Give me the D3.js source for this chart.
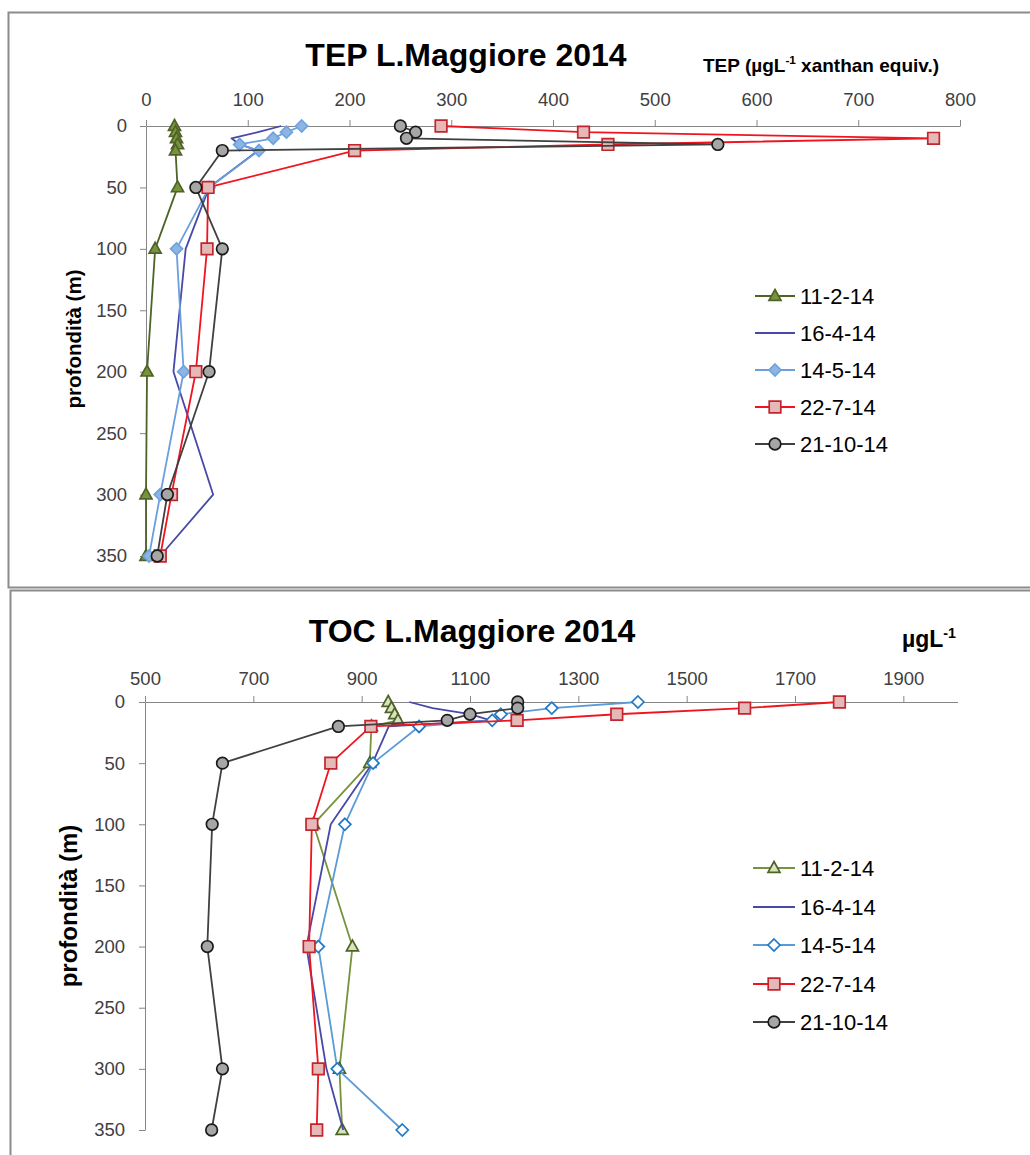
<!DOCTYPE html>
<html>
<head>
<meta charset="utf-8">
<script src="https://cdn.jsdelivr.net/npm/d3@7"></script>
<style>
	body { margin: 0; background: #fff; }
	svg { display: block; font-family: "Liberation Sans", Arial, sans-serif; }
</style>
</head>
<body>
<div id="visHolder"></div>
<script>
// depths sampled (m)
const depths = [0, 5, 10, 15, 20, 50, 100, 200, 300, 350];
const seriesNames = ["11-2-14", "16-4-14", "14-5-14", "22-7-14", "21-10-14"];

// TEP (ugL-1 xanthan equiv.)
const tepFeb = [28, 29, 30, 31, 29, 31, 9, 1, 0, 0];
const tepApr = [133, 110, 84, 92, 110, 62, 39, 27, 66, 14];
const tepMay = [153, 138, 125, 92, 111, 62, 30, 37, 14, 3];
const tepJul = [290, 430, 774, 454, 205, 61, 60, 49, 25, 14];
const tepOct = [250, 265, 256, 562, 75, 49, 75, 62, 21, 11];

// TOC (ugL-1)
const tocFeb = [949, 955, 961, 967, 918, 915, 811, 883, 859, 864];
const tocApr = [988, 1031, 1100, 1138, 950, 920, 843, 798, 835, 866];
const tocMay = [1410, 1251, 1157, 1141, 1006, 921, 869, 820, 855, 975];
const tocJul = [1782, 1607, 1371, 1187, 917, 843, 808, 803, 820, 817];
const tocOct = [1188, 1188, 1100, 1058, 857, 643, 624, 615, 643, 623];

const tepTicks = [0, 100, 200, 300, 400, 500, 600, 700, 800];
const tocTicks = [500, 700, 900, 1100, 1300, 1500, 1700, 1900];
const depthTicks = [0, 50, 100, 150, 200, 250, 300, 350];

const AXIS_COLOR = "#868686";
const LABEL_COLOR = "#404040";

const svg = d3
	.select("#visHolder")
	.append("svg")
	.attr("width", 1030)
	.attr("height", 1155);

drawChart({
	frame: { x: 8.5, y: 12.5, height: 575 },
	title: "TEP L.Maggiore 2014",
	titlePos: { x: 466, y: 66 },
	unit: { pre: "TEP (µgL", sup: "-1", post: " xanthan equiv.)", x: 703, y: 72, size: 19 },
	xDomain: [0, 800],
	xRange: [146, 960],
	yRange: [126, 556],
	xTicks: tepTicks,
	xPad: 14,
	yPad: 13,
	yLabel: { x: 81, y: 339, size: 20.5 },
	legendRows: [296, 333, 370, 407, 444],
	legendX: [755, 795],
	values: [tepFeb, tepApr, tepMay, tepJul, tepOct],
	styles: [
		{ line: "#4f6228", marker: "triangle", fill: "#77933c", stroke: "#4f6228" },
		{ line: "#4848a8", marker: null },
		{ line: "#6a9fdc", marker: "diamond", fill: "#8db4e2", stroke: "#6fa3de" },
		{ line: "#f0141e", marker: "square", fill: "#e6b9b8", stroke: "#c0262d" },
		{ line: "#404040", marker: "circle", fill: "#a6a6a6", stroke: "#1a1a1a" },
	],
});

drawChart({
	frame: { x: 10.5, y: 590.5, height: 620 },
	title: "TOC L.Maggiore 2014",
	titlePos: { x: 472, y: 642 },
	unit: { pre: "µgL", sup: "-1", post: "", x: 902, y: 647, size: 23 },
	xDomain: [500, 2000],
	xRange: [145, 957.5],
	yRange: [702, 1130],
	xTicks: tocTicks,
	xPad: 11,
	yPad: 14,
	yLabel: { x: 77, y: 906, size: 24 },
	legendRows: [868, 907, 945, 984, 1022],
	legendX: [753, 795],
	values: [tocFeb, tocApr, tocMay, tocJul, tocOct],
	styles: [
		{ line: "#77933c", marker: "triangle", fill: "#d7e4bd", stroke: "#4f6228" },
		{ line: "#4848a8", marker: null },
		{ line: "#5b9bd5", marker: "diamond", fill: "#ffffff", stroke: "#1f78c8" },
		{ line: "#f0141e", marker: "square", fill: "#e6b9b8", stroke: "#c0262d" },
		{ line: "#404040", marker: "circle", fill: "#a6a6a6", stroke: "#1a1a1a" },
	],
});

function drawChart(cfg) {
	const g = svg.append("g");

	//outer frame
	g.append("rect")
		.attr("x", cfg.frame.x)
		.attr("y", cfg.frame.y)
		.attr("width", 1040)
		.attr("height", cfg.frame.height)
		.attr("fill", "none")
		.attr("stroke", "#8c8c8c")
		.attr("stroke-width", 2);

	const x = d3.scaleLinear().domain(cfg.xDomain).range(cfg.xRange);
	const y = d3.scaleLinear().domain([0, 350]).range(cfg.yRange);

	createTitle();
	createAxes();
	createSeries();
	createLegend();

	function createTitle() {
		g.append("text")
			.attr("x", cfg.titlePos.x)
			.attr("y", cfg.titlePos.y)
			.attr("text-anchor", "middle")
			.attr("font-size", 32)
			.attr("font-weight", "bold")
			.attr("fill", "#000")
			.text(cfg.title);

		const unit = g
			.append("text")
			.attr("x", cfg.unit.x)
			.attr("y", cfg.unit.y)
			.attr("font-size", cfg.unit.size)
			.attr("font-weight", "bold")
			.attr("fill", "#000");
		unit.append("tspan").text(cfg.unit.pre);
		unit.append("tspan")
			.attr("dy", -cfg.unit.size * 0.4)
			.attr("font-size", cfg.unit.size * 0.62)
			.text(cfg.unit.sup);
		if (cfg.unit.post)
			unit.append("tspan").attr("dy", cfg.unit.size * 0.4).text(cfg.unit.post);

		g.append("text")
			.attr("transform", `translate(${cfg.yLabel.x},${cfg.yLabel.y}) rotate(-90)`)
			.attr("text-anchor", "middle")
			.attr("font-size", cfg.yLabel.size)
			.attr("font-weight", "bold")
			.attr("fill", "#000")
			.text("profondità (m)");
	}

	function createAxes() {
		const xAxis = d3
			.axisTop(x)
			.tickValues(cfg.xTicks)
			.tickSize(6)
			.tickSizeOuter(0)
			.tickPadding(cfg.xPad)
			.tickFormat(d3.format("d"));
		const yAxis = d3
			.axisLeft(y)
			.tickValues(depthTicks)
			.tickSize(6)
			.tickSizeOuter(0)
			.tickPadding(cfg.yPad)
			.tickFormat(d3.format("d"));

		g.append("g")
			.attr("transform", `translate(0,${cfg.yRange[0]})`)
			.call(xAxis)
			.call(styleAxis);
		g.append("g")
			.attr("transform", `translate(${cfg.xRange[0]},0)`)
			.call(yAxis)
			.call(styleAxis);
	}

	function styleAxis(sel) {
		sel.attr("font-family", null).attr("font-size", 18.5);
		sel.select(".domain").attr("stroke", AXIS_COLOR);
		sel.selectAll(".tick line").attr("stroke", AXIS_COLOR);
		sel.selectAll(".tick text").attr("fill", LABEL_COLOR);
	}

	function createSeries() {
		const line = d3
			.line()
			.x((d) => x(d.v))
			.y((d) => y(d.depth));

		cfg.values.forEach((vals, i) => {
			const st = cfg.styles[i];
			const pts = vals.map((v, j) => ({ v, depth: depths[j] }));
			const s = g.append("g").attr("class", "series");
			s.append("path")
				.attr("d", line(pts))
				.attr("fill", "none")
				.attr("stroke", st.line)
				.attr("stroke-width", 1.8)
				.attr("stroke-linejoin", "round");
			if (!st.marker) return;
			s.selectAll(".mk")
				.data(pts)
				.join("path")
				.attr("class", "mk")
				.attr("transform", (d) => `translate(${x(d.v)},${y(d.depth)})`)
				.attr("d", markerPath(st.marker))
				.attr("fill", st.fill)
				.attr("stroke", st.stroke)
				.attr("stroke-width", 1.7);
		});
	}

	function createLegend() {
		const [x0, x1] = cfg.legendX;
		cfg.styles.forEach((st, i) => {
			const ly = cfg.legendRows[i];
			g.append("line")
				.attr("x1", x0)
				.attr("x2", x1)
				.attr("y1", ly)
				.attr("y2", ly)
				.attr("stroke", st.line)
				.attr("stroke-width", 1.8);
			if (st.marker)
				g.append("path")
					.attr("transform", `translate(${(x0 + x1) / 2},${ly})`)
					.attr("d", markerPath(st.marker))
					.attr("fill", st.fill)
					.attr("stroke", st.stroke)
					.attr("stroke-width", 1.7);
			g.append("text")
				.attr("x", x1 + 5)
				.attr("y", ly)
				.attr("dy", "0.36em")
				.attr("font-size", 22)
				.attr("fill", "#000")
				.text(seriesNames[i]);
		});
	}
}

function markerPath(type) {
	if (type === "circle") {
		const p = d3.path();
		p.arc(0, 0, 5.8, 0, 2 * Math.PI);
		return p.toString();
	}
	if (type === "square") return "M-5.8,-5.8H5.8V5.8H-5.8Z";
	if (type === "diamond") return "M0,-6L6,0L0,6L-6,0Z";
	// triangle
	return "M0,-6.5L6,4.3L-6,4.3Z";
}
</script>
</body>
</html>
